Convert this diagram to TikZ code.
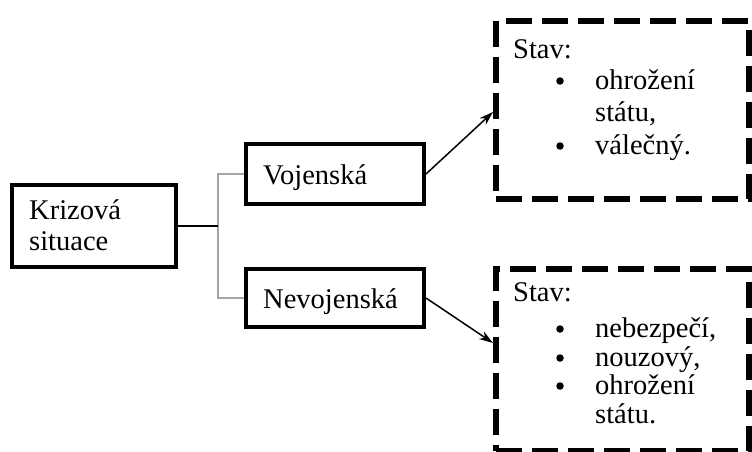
\documentclass[tikz,border=0pt]{standalone}
\usepackage{fontspec}
\setmainfont{Liberation Serif}
\usetikzlibrary{arrows.meta}
\begin{document}
\begin{tikzpicture}[x=1pt,y=-1pt,
  box/.style={draw=black,line width=4pt,fill=white,inner sep=0pt},
  dbox/.style={draw=black,line width=6pt,dash pattern=on 26pt off 10pt,inner sep=0pt},
  txt/.style={anchor=base west,inner sep=0pt,font=\fontsize{28.5pt}{31pt}\selectfont},
  bul/.style={circle,fill=black,inner sep=0pt,minimum size=7.5pt},
  conn/.style={line width=1.5pt,draw=black},
  gconn/.style={line width=2pt,draw=gray!70},
  arr/.style={line width=1.5pt,-{Stealth[length=14pt,width=9pt]}}]
\useasboundingbox (0,0) rectangle (752,452);
% boxes
\node[box,minimum width=164pt,minimum height=82pt] (kriz) at (94,226) {};
\node[box,minimum width=178pt,minimum height=60pt] (voj) at (335,174) {};
\node[box,minimum width=178pt,minimum height=58pt] (nev) at (335,298) {};
\node[dbox,minimum width=253pt,minimum height=178pt] (st1) at (622.5,110) {};
\node[dbox,minimum width=253pt,minimum height=182pt] (st2) at (622.5,359.5) {};
% texts
\node[txt] (k1) at (29,219) {Krizová};
\node[txt] (k2) at (29,250) {situace};
\node[txt] (v1) at (263,184) {Vojenská};
\node[txt] (n1) at (263,308) {Nevojenská};
% state box 1
\node[txt] (s1) at (513,59) {Stav:};
\node[bul] (b11) at (560,81) {};
\node[txt] (t11) at (595,89) {ohrožení};
\node[txt] (t12) at (595,121) {státu,};
\node[bul] (b12) at (560,146) {};
\node[txt] (t13) at (595,154) {válečný.};
% state box 2
\node[txt] (s2) at (513,301) {Stav:};
\node[bul] (b21) at (560,329) {};
\node[txt] (t21) at (595,337) {nebezpečí,};
\node[bul] (b22) at (560,358) {};
\node[txt] (t22) at (595,366) {nouzový,};
\node[bul] (b23) at (560,386) {};
\node[txt] (t23) at (595,394) {ohrožení};
\node[txt] (t24) at (595,423) {státu.};
% connectors
\coordinate (jt) at (218,174);
\coordinate (jb) at (218,298);
\draw[gconn] (voj.west) -- (jt) -- (jb) -- (nev.west);
\draw[conn] (kriz.east) -- (kriz.east -| jt);
\coordinate (a1) at (493,112);
\coordinate (a2) at (493,343);
\draw[arr] (voj.east) -- (a1);
\draw[arr] (nev.east) -- (a2);
\end{tikzpicture}
\end{document}
